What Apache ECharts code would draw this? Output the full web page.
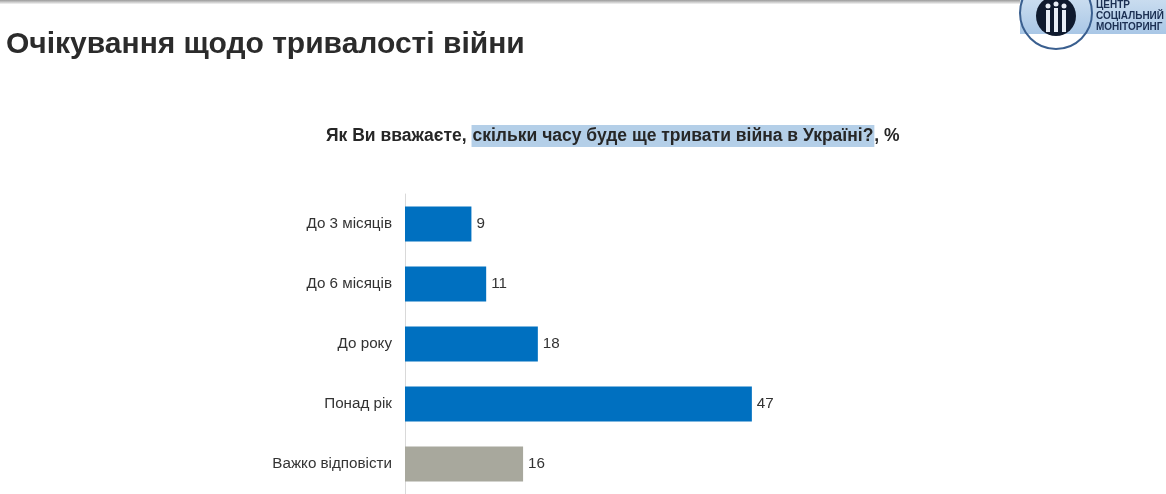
<!DOCTYPE html>
<html><head><meta charset="utf-8">
<script src="https://cdn.jsdelivr.net/npm/echarts@6/dist/echarts.min.js"></script>
<style>html,body{margin:0;padding:0;background:#fff}#c{width:1166px;height:494px}</style>
</head><body><div id="c"></div>
<script>
const categories = ['До 3 місяців','До 6 місяців','До року','Понад рік','Важко відповісти'];
const values = [9, 11, 18, 47, 16];
const barColors = ['#0070c0','#0070c0','#0070c0','#0070c0','#a8a89d'];
const titleText = 'Очікування щодо тривалості війни';
const subPre = 'Як Ви вважаєте, ';
const subHi = 'скільки часу буде ще тривати війна в Україні?';
const subPost = ', %';
const logoLines = ['ЦЕНТР','СОЦІАЛЬНИЙ','МОНІТОРИНГ'];

const chart = echarts.init(document.getElementById('c'), null, {renderer:'canvas'});
const font = '"Liberation Sans", Arial, sans-serif';
chart.setOption({
  backgroundColor:'#fff',
  animation:false,
  title:[
    {text:titleText, left:1, top:25, textStyle:{fontFamily:font, fontSize:30, fontWeight:'bold', color:'#2b2b2b'}},
    {text:'{a|'+subPre+'}{h|'+subHi+'}{a|'+subPost+'}', left:321, top:120, textStyle:{rich:{
      a:{fontFamily:font, fontSize:17.5, fontWeight:'bold', color:'#262626'},
      h:{fontFamily:font, fontSize:17.5, fontWeight:'bold', color:'#262626', backgroundColor:'#b4cfe8', padding:[2,1,2,1]}
    }}}
  ],
  graphic:[
    {type:'rect', shape:{x:0,y:0,width:1166,height:4}, style:{fill:new echarts.graphic.LinearGradient(0,0,0,1,[{offset:0,color:'#9a9a9a'},{offset:1,color:'#f4f4f4'}])}},
    {type:'rect', shape:{x:1020,y:0,width:146,height:34}, style:{fill:new echarts.graphic.LinearGradient(0,0,0,1,[{offset:0,color:'#c9dcef'},{offset:1,color:'#a9c7e6'}])}},
    {type:'circle', shape:{cx:1056,cy:13,r:36}, style:{fill:'none', stroke:'#3a5f8f', lineWidth:2}},
    {type:'circle', shape:{cx:1056,cy:16,r:20}, style:{fill:'#0f1a2e'}},
    {type:'rect', shape:{x:1046,y:10,width:4,height:22}, style:{fill:'#e8eef6'}},
    {type:'rect', shape:{x:1054,y:8,width:4,height:24}, style:{fill:'#e8eef6'}},
    {type:'rect', shape:{x:1062,y:10,width:4,height:22}, style:{fill:'#e8eef6'}},
    {type:'circle', shape:{cx:1048,cy:6,r:2.5}, style:{fill:'#e8eef6'}},
    {type:'circle', shape:{cx:1056,cy:4,r:2.5}, style:{fill:'#e8eef6'}},
    {type:'circle', shape:{cx:1064,cy:6,r:2.5}, style:{fill:'#e8eef6'}},
    {type:'text', left:1096, top:0, style:{text:logoLines.join('\n'), fontFamily:font, fontSize:10, fontWeight:'bold', fill:'#1b2f52', lineHeight:11}}
  ],
  grid:{left:405, right:23, top:194, bottom:-2, containLabel:false},
  xAxis:{type:'value', min:0, max:100, show:false},
  yAxis:{type:'category', inverse:true, data:categories,
    axisLine:{show:true, lineStyle:{color:'#d9d9d9', width:1}},
    axisTick:{show:false},
    axisLabel:{fontFamily:font, fontSize:15.2, color:'#333', margin:13}
  },
  series:[{type:'bar', data:values.map((v,i)=>({value:v, itemStyle:{color:barColors[i]}})),
    barWidth:35,
    label:{show:true, position:'right', distance:5, fontFamily:font, fontSize:15.2, color:'#333'}
  }]
});
</script></body></html>
